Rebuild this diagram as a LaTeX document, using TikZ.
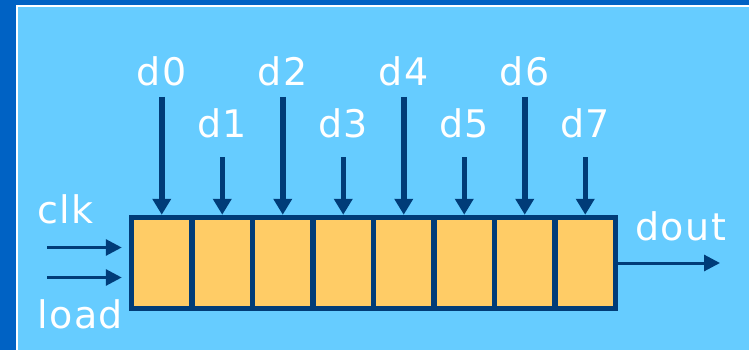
\documentclass[tikz,border=0pt]{standalone}
\usepackage{fontspec}
\setmainfont{DejaVu Sans}[LetterSpace=4]
\usetikzlibrary{arrows.meta}
\definecolor{outerblue}{HTML}{0062C4}
\definecolor{panelblue}{HTML}{66CCFF}
\definecolor{navy}{HTML}{003C78}
\definecolor{cellfill}{HTML}{FFCC66}
\tikzset{
  cell/.style={draw=navy, fill=cellfill, line width=5.5pt, minimum width=60.5pt, minimum height=91pt, inner sep=0pt, outer sep=2.75pt, anchor=center},
  lbl/.style={text=white, inner sep=0pt, font=\fontsize{38}{40}\selectfont},
  dataarrow/.style={draw=navy, line width=5.5pt, -{Triangle[width=18pt,length=16pt]}},
  thinarrow/.style={draw=navy, line width=3pt, -{Triangle[width=16pt,length=16pt]}}
}
\begin{document}
\begin{tikzpicture}[x=1pt,y=-1pt]
\useasboundingbox (0,0) rectangle (749,350);
\fill[outerblue] (0,0) rectangle (749,350);
\fill[white] (16,5) rectangle (749,350);
\fill[panelblue] (18,7) rectangle (749,350);
% cells
\foreach \i in {0,...,7} {
  \node[cell] (c\i) at ({161.75+60.5*\i},263) {};
}
% data labels and arrows
\foreach \i in {0,2,4,6} {
  \node[lbl, anchor=base] (d\i) at ({161.75+60.5*\i},86) {d\i};
  \coordinate (s\i) at ({161.75+60.5*\i},97);
  \draw[dataarrow] (s\i) -- (c\i.north);
}
\foreach \i in {1,3,5,7} {
  \node[lbl, anchor=base] (d\i) at ({161.75+60.5*\i},138) {d\i};
  \coordinate (s\i) at ({161.75+60.5*\i},157);
  \draw[dataarrow] (s\i) -- (c\i.north);
}
% inputs
\node[lbl, anchor=base west] (clk) at (37,223) {clk};
\node[lbl, anchor=base west] (load) at (37,328) {load};
\coordinate (clkin) at (47,247.5);
\coordinate (loadin) at (47,277.5);
\draw[thinarrow, shorten >=7pt] (clkin) -- (clkin -| c0.west);
\draw[thinarrow, shorten >=7pt] (loadin) -- (loadin -| c0.west);
% output
\node[lbl, anchor=base west] (dout) at (635,240) {dout};
\coordinate (doutend) at (720,263);
\draw[thinarrow] (c7.east) -- (doutend);
\end{tikzpicture}
\end{document}
